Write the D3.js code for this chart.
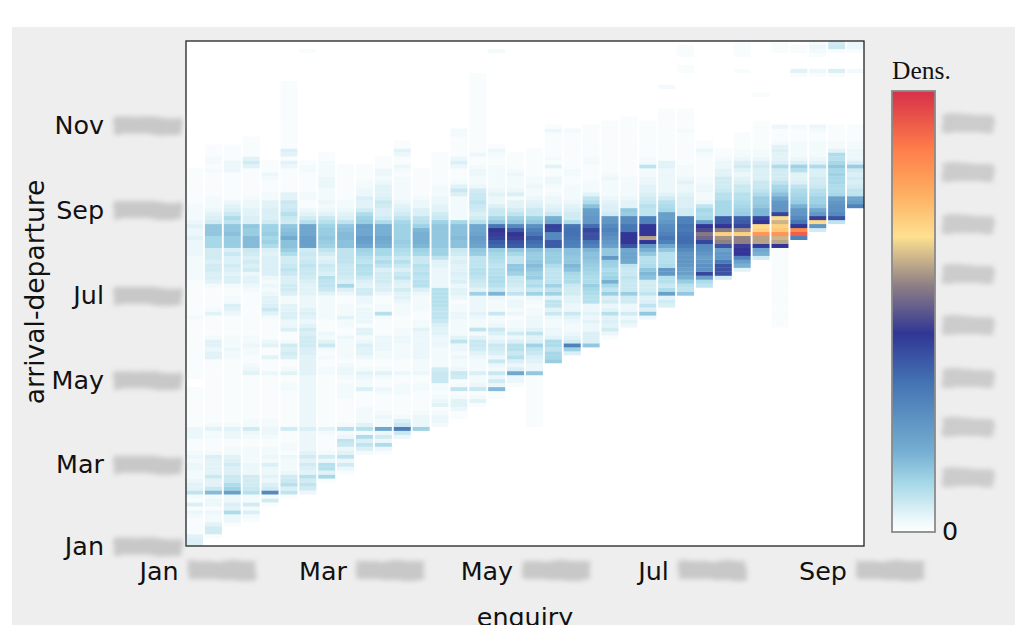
<!DOCTYPE html>
<html><head><meta charset="utf-8">
<script src="https://cdnjs.cloudflare.com/ajax/libs/d3/7.8.5/d3.min.js"></script>
<style>html,body{margin:0;padding:0;background:#fff;overflow:hidden}svg{display:block}</style>
</head><body><svg id="c" width="1015" height="625"></svg>
<script>
// Density per enquiry week (w00..w35), one value per arrival-departure row, bottom-up, ten rows per line.
const firstRow=[0,0,0,0,10,10,10,10,10,20,20,20,20,30,30,30,30,40,30,40,40,50,50,50,50,60,60,60,60,60,70,50,70,70,80,80];
const w00=[5,5,4,1,1,1,1,2,3,1,
5,1,2,8,4,4,3,2,2,3,
3,2,3,2,1,1,1,3,3,3,
1,1,1,1,1,1,1,1,1,1,
0,0,1,1,1,1,1,1,1,1,
1,1,1,1,1,1,1,2,1,1,
1,1,1,1,1,1,1,2,2,2,
2,2,2,3,3,3,3,4,3,3,
4,3,2,2,2,2,1,1,1,1,
1,1,1,1,1,0,0,0];
const w01=[0,0,1,6,6,4,2,2,3,1,
3,3,2,16,7,4,4,7,4,4,
4,4,5,2,1,1,1,2,2,4,
2,1,1,1,1,1,1,1,1,1,
1,1,1,1,1,1,1,4,4,3,
4,4,2,1,1,1,1,1,4,2,
1,1,1,1,1,2,4,5,5,6,
6,5,6,6,6,11,11,11,14,14,
14,6,5,4,3,2,2,2,1,1,
1,1,1,1,2,1,2,2,1,1,
1,0];
const w02=[0,0,0,0,0,1,3,3,10,4,
5,3,3,22,12,10,7,7,5,5,
6,5,4,2,2,1,1,3,3,4,
2,1,1,1,1,1,1,1,1,1,
1,1,1,1,1,1,1,2,2,3,
2,2,2,1,1,1,1,1,3,4,
5,2,2,1,1,2,5,5,4,5,
6,5,5,7,5,13,13,13,15,14,
14,8,10,7,5,4,3,1,1,1,
1,1,1,1,3,3,3,1,1,1,
1,0];
const w03=[0,0,0,0,0,0,1,2,5,2,
6,2,2,9,7,6,6,6,3,3,
3,2,2,2,2,1,1,2,3,6,
2,2,1,1,1,1,1,1,1,1,
1,1,1,4,3,2,1,1,2,2,
3,2,2,1,1,1,1,1,1,1,
1,1,1,1,2,3,4,4,3,6,
5,6,5,6,7,16,16,16,13,13,
14,5,5,4,4,3,3,2,1,1,
1,1,1,1,1,4,6,4,1,1,
1,1,1];
const w04=[1,6,2,28,6,5,3,4,3,3,
5,2,3,2,2,1,1,2,3,3,
2,2,1,1,1,1,1,1,1,1,
1,1,1,3,1,1,1,4,1,1,
4,3,1,1,1,1,1,2,4,7,
5,4,4,3,2,3,2,3,5,5,
5,5,5,4,5,10,12,11,13,12,
12,6,5,5,5,4,4,2,2,1,
1,1,2,3,1,1,1,0];
const w05=[0,0,1,8,5,9,7,6,3,2,
2,2,3,1,2,2,1,1,1,6,
1,1,1,1,1,1,1,1,1,2,
2,1,1,4,2,1,1,5,6,5,
6,2,1,1,5,3,3,5,5,4,
4,2,2,5,6,6,5,5,7,8,
7,6,6,10,13,15,15,19,16,15,
14,6,7,9,7,6,7,4,4,1,
1,1,1,1,1,3,4,1,4,5,
1,1,1,1,1,1,1,1,1,1,
1,1,1,1,1,1,1];
const w06=[0,0,0,3,6,8,6,9,4,5,
6,4,6,4,3,3,3,3,3,5,
3,3,3,3,3,3,3,3,3,3,
3,3,3,4,4,4,4,4,5,5,
6,6,6,5,6,4,3,4,5,4,
3,3,3,4,4,4,5,6,7,7,
8,7,6,7,6,22,22,22,20,20,
20,9,6,4,3,1,1,2,2,1,
1,1,1,1,2,2,1,0,0,0,
0,0,0,0,0,0,0,0,0,0,
0,0,0,0,0,0,0,0,0,0,
0,0,0,0,1];
const w07=[0,0,0,0,0,0,1,11,4,9,
9,3,6,2,1,1,1,1,2,4,
1,1,1,1,1,1,1,1,1,1,
1,1,1,2,2,1,1,2,1,2,
7,4,2,3,1,1,1,2,2,2,
2,2,2,4,7,8,8,9,5,6,
7,5,4,6,8,12,13,14,13,13,
12,9,7,4,3,2,3,2,2,2,
3,3,3,2,2,2,2,1,1,0];
const w08=[0,0,0,0,0,0,0,0,1,3,
6,3,8,4,3,7,8,3,2,9,
2,1,1,1,1,1,1,2,2,2,
2,1,2,3,3,2,1,2,2,2,
2,2,3,1,1,2,2,4,2,2,
2,1,1,3,5,11,5,6,7,7,
7,8,8,8,8,15,15,16,16,15,
14,8,5,4,3,2,2,1,1,1,
1,1,1,1,1,1,0];
const w09=[0,0,0,2,5,8,5,10,2,9,
4,2,2,2,2,1,1,1,1,5,
2,2,3,4,2,1,1,3,4,4,
5,3,2,4,4,1,3,3,3,3,
2,3,3,6,6,4,5,7,9,9,
10,8,9,11,12,20,22,23,20,20,
21,13,12,10,6,4,4,5,3,3,
2,2,1,1,1,1,0];
const w10=[0,0,0,1,3,10,3,6,3,20,
2,2,3,2,1,1,1,1,2,3,
1,1,2,4,2,1,1,2,2,3,
3,3,3,1,1,1,1,2,9,2,
2,1,1,3,5,5,6,6,6,5,
8,10,8,11,11,18,19,20,18,18,
18,10,6,5,5,6,7,5,4,4,
4,3,2,3,3,1,1,1,0];
const w11=[0,0,0,0,0,0,0,3,7,31,
7,5,2,1,1,1,1,1,2,2,
2,1,1,3,1,1,1,2,2,2,
2,3,3,2,2,1,1,1,2,2,
2,3,4,4,6,4,5,8,7,5,
7,9,7,9,10,12,13,12,12,12,
12,11,8,6,5,4,3,2,2,2,
2,2,2,1,2,3,1,1,3,4,
1,1];
const w12=[0,0,0,0,0,0,0,0,0,12,
3,3,3,2,1,1,1,1,1,2,
2,1,1,3,2,2,2,3,3,3,
3,3,3,3,4,2,2,1,1,2,
2,2,2,3,5,9,9,8,9,8,
9,7,7,11,12,17,18,18,18,17,
12,9,8,5,5,3,3,2,1,1,
1,1,1,1,1,0];
const w13=[2,3,3,2,1,4,3,2,1,2,
2,7,7,7,6,2,2,2,2,2,
3,3,3,4,4,5,7,8,8,8,
9,9,9,9,9,3,3,3,3,3,
4,4,8,12,12,14,14,14,14,14,
14,12,7,6,4,4,3,3,2,2,
2,1,1,1,1,1,1,1,1,0];
const w14=[0,0,1,1,3,4,4,2,1,8,
2,1,6,7,3,2,2,3,2,3,
3,8,4,2,2,2,2,3,3,2,
2,1,3,4,4,3,5,4,5,4,
4,5,4,6,7,15,15,16,15,15,
15,11,2,2,2,2,2,2,5,7,
4,2,1,1,1,3,5,3,1,1,
1,1,1,2,2];
const w15=[0,0,0,0,0,1,4,2,1,7,
3,2,2,5,2,2,2,3,4,6,
7,7,4,2,8,2,2,3,4,3,
3,3,3,12,4,6,7,8,9,9,
8,8,8,13,14,21,22,23,21,20,
20,9,6,5,6,7,8,7,7,6,
3,2,2,3,3,2,1,1,3,1,
1,1,1,1,1,1,1,1,1,1,
1,1,1,1,1,1,1,1,1];
const w16=[0,0,0,0,0,0,0,1,1,16,
3,6,3,7,2,3,7,3,5,6,
7,4,3,5,7,3,2,2,7,2,
2,2,3,17,7,9,10,10,9,9,
8,9,10,11,13,36,38,42,46,45,
33,14,11,7,7,5,3,3,4,3,
2,2,2,2,2,2,1,1,2,3,
1,0,0,0,0,0,0,0,0,0,
0,0,0,0,0,0,0,0,0,0,
0,0,0,0,2];
const w17=[1,3,3,20,5,3,5,9,7,9,
9,5,3,6,3,2,2,1,3,2,
3,3,2,8,5,6,7,7,12,14,
14,8,8,11,14,38,40,46,45,38,
28,14,12,8,6,4,4,2,5,3,
2,2,2,3,2,1,1,1,1];
const w18=[1,1,1,1,1,1,1,1,1,1,
1,1,1,14,3,3,4,5,7,8,
12,5,4,8,4,3,3,3,2,2,
1,2,3,12,7,10,9,13,12,14,
16,14,13,13,15,33,35,38,33,30,
26,14,12,7,7,5,4,3,2,2,
3,2,2,1,1,1,1,1,1,1];
const w19=[0,0,0,0,0,0,13,11,11,8,
10,10,4,3,3,2,2,3,7,4,
8,8,4,12,8,12,8,8,8,8,
10,13,13,13,14,38,38,28,28,42,
43,20,18,7,5,4,3,3,2,1,
2,3,3,1,1,4,1,2,1,1,
1,1,1,1,3,1];
const w20=[0,0,0,0,0,0,0,0,5,12,
30,6,4,3,2,2,3,4,7,3,
3,4,4,6,6,7,10,10,11,15,
17,14,14,15,15,30,31,33,34,34,
33,10,6,6,5,4,3,2,2,2,
2,1,1,2,2,1,1,1,1,1,
1,1,1,1,2];
const w21=[14,5,5,5,3,3,4,3,4,3,
3,9,9,10,11,13,10,10,11,12,
13,14,15,15,17,30,33,40,40,42,
35,24,24,23,22,15,10,8,4,2,
2,2,1,1,1,1,2,2,1,1,
1,1,1,1,1,1];
const w22=[0,0,1,3,6,4,5,4,9,4,
3,6,5,13,8,11,18,12,11,10,
12,13,24,14,14,22,24,26,28,30,
28,25,24,6,5,5,4,3,2,2,
2,2,3,2,1,1,1,1,1,1,
1,1,1,1,1,1,1];
const w23=[0,0,0,0,0,3,4,3,6,3,
3,6,6,13,7,7,7,8,7,7,
8,20,21,21,20,40,45,45,45,33,
33,28,28,13,14,4,4,3,2,2,
2,2,2,1,1,1,1,1,1,1,
1,1,1,1,1,1,1,1];
const w24=[0,0,0,0,0,0,0,3,14,5,
8,5,4,8,6,6,6,15,17,14,
10,9,9,14,18,24,45,60,45,45,
45,30,30,8,8,9,7,6,5,4,
4,3,3,2,2,8,2,2,1,1,
1,1,1,1,1,1,1];
const w25=[5,6,4,22,10,7,9,9,24,24,
10,9,9,9,14,20,30,33,30,28,
27,24,22,22,11,10,9,6,4,3,
3,3,3,3,3,4,4,1,1,1,
1,1,1,1,1,1,1,1,1,1,
0,0,0,0,0,2,0];
const w26=[0,0,0,14,8,9,13,18,22,22,
24,25,25,25,28,32,35,35,34,32,
33,30,30,6,6,5,5,5,4,3,
3,4,3,2,2,2,1,1,1,1,
1,1,1,1,2,1,1,1,1,1,
0,0,0,0,0,0,0,0,0,1,
1,0,0,1,1,1];
const w27=[0,0,0,0,0,8,10,22,42,26,
26,24,22,25,27,28,42,52,55,48,
45,22,11,10,11,8,3,2,2,3,
3,2,2,1,1,1,1,1,2,3,
1,1];
const w28=[0,0,0,0,0,0,0,6,40,40,
40,32,24,24,22,40,56,58,70,55,
45,38,38,11,11,11,11,9,9,7,
6,6,6,4,4,3,3,2,1,1];
const w29=[0,0,0,0,0,0,0,0,0,4,
18,22,30,45,45,46,56,56,70,58,
42,38,37,13,12,11,10,9,9,7,
7,5,4,3,4,6,5,3,2,2,
1,1,1,1,0,0,0,0,0,0,
0,0,0,0,0,0,0,0,0,1,
0,0,0,1,1,1,1];
const w30=[0,0,6,18,20,44,60,60,82,70,
68,45,42,17,17,14,13,13,10,8,
7,7,5,5,5,6,5,3,2,2,
1,1,1,1,1,1,1,0,0,0,
0,0,0,1];
const w31=[0,0,0,0,0,1,1,1,1,1,
1,1,1,1,1,1,1,1,1,1,
1,1,1,1,1,45,60,62,82,72,
70,62,68,42,25,25,24,20,15,12,
11,8,6,6,6,10,5,4,4,5,
4,2,1,1,1,3,0,0,0,0,
0,0,0,0,0,0,0,0,0,0,
0,0,0,0,1,1,1];
const w32=[0,0,0,0,0,0,0,30,92,84,
45,33,28,25,24,18,13,12,11,10,
8,5,4,4,9,12,5,3,2,2,
2,2,1,1,1,2,0,0,0,0,
0,0,0,0,0,0,0,0,1,4,
0,0,0,0,1,1];
const w33=[0,0,0,0,0,0,0,0,0,6,
25,68,46,24,20,14,12,12,10,9,
7,6,6,5,5,10,4,3,2,2,
2,2,1,1,2,3,0,0,0,0,
0,0,0,0,0,0,0,0,1,3,
0,0,0,1,2,3,2];
const w34=[0,8,40,28,26,26,24,22,11,10,
10,11,11,12,11,14,11,9,10,4,
2,2,1,1,1,1,0,0,0,0,
0,0,0,0,0,0,0,0,1,5,
0,0,0,0,1,7,6];
const w35=[0,0,0,0,0,30,22,20,8,8,
6,5,6,5,6,13,5,3,3,3,
2,2,1,1,1,1,0,0,0,0,
0,0,0,0,0,0,0,0,0,2,
0,0,0,0,1,3,3];
const weeks=[w00,w01,w02,w03,w04,w05,w06,w07,w08,w09,w10,w11,w12,w13,w14,w15,w16,w17,w18,w19,w20,w21,w22,w23,w24,w25,w26,w27,w28,w29,w30,w31,w32,w33,w34,w35];
const xTickLabels=["Jan","Mar","May","Jul","Sep"];
const xTickDates=[new Date(2015,0,1),new Date(2015,2,2),new Date(2015,4,1),new Date(2015,6,1),new Date(2015,8,1)];
const yTickLabels=["Jan","Mar","May","Jul","Sep","Nov"];
const yTickDates=[new Date(2015,0,1),new Date(2015,2,1),new Date(2015,4,1),new Date(2015,6,1),new Date(2015,8,1),new Date(2015,10,1)];
const colorStops=[0,3,11,18.5,33.5,45,56,67,76.7,86.5,100];
const colorHex=["#ffffff","#ebf7fa","#a6d8e8","#74add1","#4575b4","#313695","#8f8085","#fee090","#fdae61","#ff7f4a","#d73049"];
const legendTicks=[0,12.2,23.6,34.7,46.7,58.3,69.6,81.4,92.5];

const P={l:186,r:864,t:41,b:546};
const svg=d3.select("#c");
const defs=svg.append("defs");
defs.append("filter").attr("id","soft").attr("x","-2%").attr("y","-2%").attr("width","104%").attr("height","104%")
  .append("feGaussianBlur").attr("stdDeviation","0.55");
const sm=defs.append("filter").attr("id","smear").attr("x","-25%").attr("y","-70%").attr("width","150%").attr("height","240%");
sm.append("feTurbulence").attr("type","fractalNoise").attr("baseFrequency","0.03 0.1").attr("numOctaves",2).attr("seed",7).attr("result","n");
sm.append("feDisplacementMap").attr("in","SourceGraphic").attr("in2","n").attr("scale",8).attr("xChannelSelector","R").attr("yChannelSelector","G").attr("result","d");
sm.append("feGaussianBlur").attr("in","d").attr("stdDeviation","2.8");
defs.append("clipPath").attr("id","panel").append("rect").attr("x",P.l).attr("y",P.t).attr("width",P.r-P.l).attr("height",P.b-P.t);

svg.append("rect").attr("x",12).attr("y",27).attr("width",1003).attr("height",598).attr("fill","#eeeeee");
svg.append("rect").attr("x",P.l).attr("y",P.t).attr("width",P.r-P.l).attr("height",P.b-P.t).attr("fill","#fff");

const x=d3.scaleBand().domain(d3.range(weeks.length)).range([P.l,P.r]).paddingInner(0.1).paddingOuter(0);
const y=d3.scaleBand().domain(d3.range(127)).range([P.b,P.t]);
const color=d3.scaleLinear().domain(colorStops).range(colorHex).clamp(true);
const xTime=d3.scaleTime().domain([new Date(2015,0,1),new Date(2015,8,1)]).range([197,861]);
const yTime=d3.scaleTime().domain([new Date(2015,0,1),new Date(2015,10,1)]).range([546,125]);

const cells=[];
weeks.forEach((col,i)=>col.forEach((v,j)=>{if(v>0)cells.push({i,r:firstRow[i]+j,v});}));
svg.append("g").attr("clip-path","url(#panel)").append("g").attr("filter","url(#soft)")
  .selectAll("rect").data(cells).join("rect")
  .attr("x",d=>x(d.i)).attr("width",x.bandwidth())
  .attr("y",d=>y(d.r)).attr("height",y.bandwidth()+0.2)
  .attr("fill",d=>color(d.v));
svg.append("rect").attr("x",P.l).attr("y",P.t).attr("width",P.r-P.l).attr("height",P.b-P.t)
  .attr("fill","none").attr("stroke","#222").attr("stroke-width",1.3);

const FONT="'DejaVu Sans',sans-serif", FS=25.4;
// x axis: month word and smeared year are centred together on the tick
const gx=svg.append("g").attr("transform",`translate(0,${P.b})`)
  .call(d3.axisBottom(xTime).tickValues(xTickDates).tickFormat((d,i)=>xTickLabels[i]).tickSize(0));
gx.select(".domain").remove();
gx.selectAll("text").attr("font-family",FONT).attr("font-size",FS).attr("fill","#111")
  .attr("text-anchor","end").attr("dy",0).attr("y",34);
gx.selectAll(".tick").each(function(){
  const g=d3.select(this), t=g.select("text"), tw=t.node().getComputedTextLength();
  const end=-(tw+9+68)/2+tw;
  t.attr("x",end);
  g.append("rect").attr("x",end+9).attr("y",15).attr("width",68).attr("height",19)
    .attr("fill","#c8c8c8").attr("filter","url(#smear)");
});
// y axis
const gy=svg.append("g").attr("transform",`translate(${P.l},0)`)
  .call(d3.axisLeft(yTime).tickValues(yTickDates).tickFormat((d,i)=>yTickLabels[i]).tickSize(0));
gy.select(".domain").remove();
gy.selectAll("text").attr("font-family",FONT).attr("font-size",FS).attr("fill","#111")
  .attr("x",-82).attr("dy","0.34em").attr("text-anchor","end");
gy.selectAll(".tick").append("rect").attr("x",-72).attr("y",-9).attr("width",68).attr("height",18)
  .attr("fill","#c8c8c8").attr("filter","url(#smear)");

svg.append("text").attr("x",525).attr("y",626).attr("text-anchor","middle")
  .attr("font-family",FONT).attr("font-size",FS).attr("fill","#111").text("enquiry");
svg.append("text").attr("transform","translate(44,292) rotate(-90)").attr("text-anchor","middle")
  .attr("font-family",FONT).attr("font-size",26.5).attr("fill","#111").text("arrival-departure");

// colour legend
const L={x:892,w:43,t:91,b:532};
const lg=defs.append("linearGradient").attr("id","lg").attr("x1",0).attr("x2",0).attr("y1",1).attr("y2",0);
colorStops.forEach((s,i)=>lg.append("stop").attr("offset",s/100).attr("stop-color",colorHex[i]));
svg.append("rect").attr("x",L.x).attr("y",L.t).attr("width",L.w).attr("height",L.b-L.t)
  .attr("fill","url(#lg)").attr("stroke","#8a8a8a").attr("stroke-width",1.8);
const ly=d3.scaleLinear().domain([0,100]).range([L.b,L.t]);
const lt=svg.append("g").selectAll("g").data(legendTicks).join("g").attr("transform",d=>`translate(${L.x+L.w+7},${ly(d)})`);
lt.filter(d=>d>0).append("rect").attr("x",0).attr("y",-9).attr("width",52).attr("height",17)
  .attr("fill","#cccccc").attr("filter","url(#smear)");
lt.filter(d=>d===0).append("text").attr("x",0).attr("y",8).attr("font-family",FONT).attr("font-size",FS).attr("fill","#111").text("0");
svg.append("text").attr("x",892).attr("y",79).attr("font-family","'Liberation Serif',serif").attr("font-size",25.5).attr("fill","#111").text("Dens.");
</script></body></html>
